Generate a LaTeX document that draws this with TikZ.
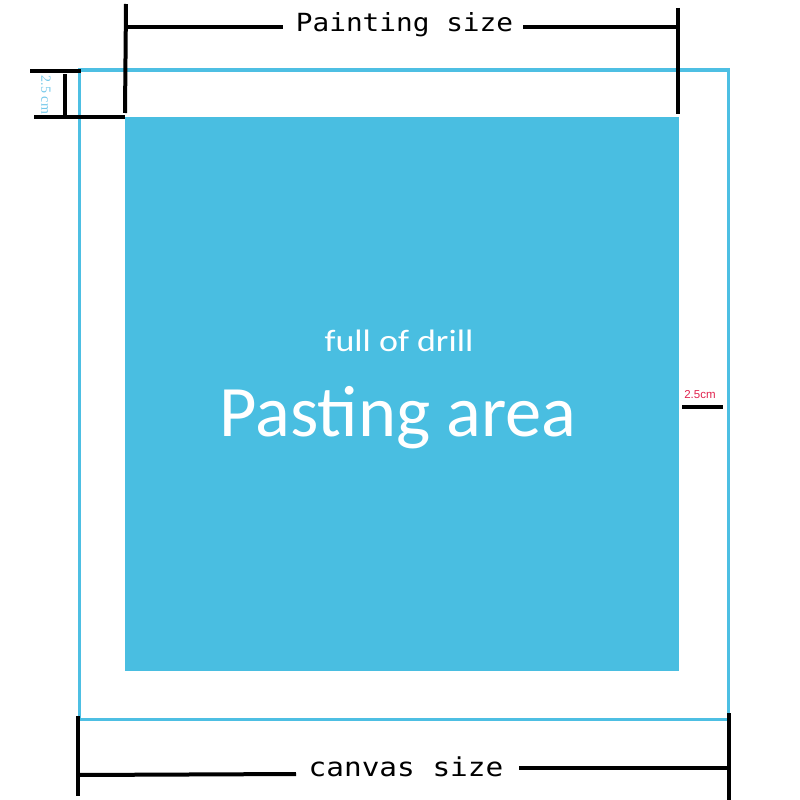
\documentclass[tikz,border=0pt]{standalone}
\usepackage{fontspec}
\setmainfont{Carlito}
\newfontfamily\monof{DejaVu Sans Mono}
\newfontfamily\serf{Liberation Serif}
\newfontfamily\sansf{Liberation Sans}
\definecolor{pblue}{HTML}{49BEE1}
\definecolor{oblue}{HTML}{4DBFE3}
\definecolor{lblue}{HTML}{74C8EA}
\definecolor{mred}{HTML}{E0234E}
\tikzset{
  dimline/.style={draw=black,line width=4pt},
  dimtext/.style={inner sep=0pt},
}
\begin{document}
\begin{tikzpicture}[x=1pt,y=-1pt]
\useasboundingbox (0,0) rectangle (800,800);
% outer canvas
\draw[oblue,line width=3pt] (79,70) rectangle (728,719);
% pasting area
\fill[pblue] (125,117) rectangle (679,671);
\node[text=white,inner sep=0pt,font=\fontsize{31}{34}\selectfont,xscale=1.16] (drill) at (399,341) {full of drill};
\node[text=white,inner sep=0pt,font=\fontsize{72.5}{80}\selectfont] (paste) at (398,418) {Pasting area};
% top dimension
\node[dimtext,font=\monof\fontsize{25}{28}\selectfont,xscale=1.11] (paint) at (404.5,25) {Painting size};
\coordinate (tl1) at (126,4);
\coordinate (tl2) at (125,113);
\coordinate (tr1) at (678,8);
\coordinate (tr2) at (678,114);
\draw[dimline] (tl1) -- (tl2);
\draw[dimline] (tr1) -- (tr2);
\draw[dimline] (126,27) -- (283,27);
\draw[dimline] (523,27) -- (678,27);
% left 2.5 cm
\draw[dimline] (30,71) -- (81,71);
\draw[dimline] (34,117) -- (125,117);
\draw[dimline] (65,74) -- (65,116);
\node[text=lblue,inner sep=0pt,rotate=-90,font=\serf\fontsize{14}{15}\selectfont] (lcm) at (46,95) {2.5 cm};
% right 2.5cm
\node[text=mred,inner sep=0pt,font=\sansf\fontsize{11.5}{12}\selectfont] (rcm) at (700,395) {2.5cm};
\draw[dimline] (682,407) -- (723,407);
% bottom dimension
\node[dimtext,font=\monof\fontsize{26}{28}\selectfont,xscale=1.13] (canvas) at (406,767) {canvas size};
\draw[dimline] (78,716) -- (78,796);
\draw[dimline] (729,713) -- (729,800);
\draw[dimline] (78,775) -- (296,774);
\draw[dimline] (519,768) -- (729,768);
\end{tikzpicture}
\end{document}
